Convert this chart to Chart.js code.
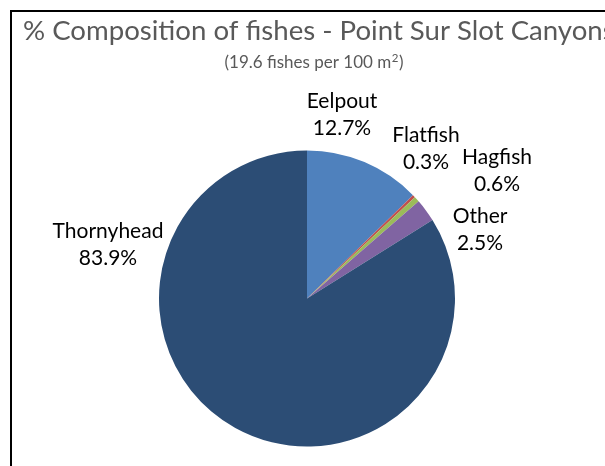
<!DOCTYPE html>
<html>
<head>
<meta charset="utf-8">
<script src="https://cdn.jsdelivr.net/npm/chart.js@4.4.1/dist/chart.umd.min.js"></script>
<style>
  html, body { margin: 0; padding: 0; background: #fff; }
  #wrap { width: 605px; height: 466px; position: relative; }
</style>
</head>
<body>
<div id="wrap"><canvas id="fishPie" width="605" height="466"></canvas></div>
<script>
// species, share of fishes (%)
const species = ["Eelpout", "Flatfish", "Hagfish", "Other", "Thornyhead"];
const shares = [12.7, 0.3, 0.6, 2.5, 83.9];
const sliceColors = ["#4F81BD", "#C0504D", "#9BBB59", "#8064A2", "#2C4D75"];

const titleText = "% Composition of fishes - Point Sur Slot Canyons";
const subtitleParts = ["(19.6 fishes per 100 m", "2", ")"];

// where each label block sits, as offset from the pie centre (first baseline)
const labelOffsets = [[35, -191], [119, -157], [190, -135], [173, -76], [-199, -61]];

const fontFamily = "Lato, 'Open Sans', sans-serif";
const labelFont = "21px " + fontFamily;

const frame = {
    id: "frame",
    beforeDraw(chart) {
        const ctx = chart.ctx;
        ctx.save();
        ctx.strokeStyle = "#000";
        ctx.lineWidth = 2;
        ctx.strokeRect(11, 11, 800, 600);

        ctx.fillStyle = "#595959";
        ctx.textBaseline = "alphabetic";
        ctx.textAlign = "left";
        ctx.font = "27.6px " + fontFamily;
        ctx.fillText(titleText, 23, 40);

        // subtitle with a raised "2" for m²
        const mainFont = "17px " + fontFamily;
        const supFont = "11.5px " + fontFamily;
        ctx.font = mainFont;
        const w0 = ctx.measureText(subtitleParts[0]).width;
        const w2 = ctx.measureText(subtitleParts[2]).width;
        ctx.font = supFont;
        const w1 = ctx.measureText(subtitleParts[1]).width + 1;
        let x = 314 - (w0 + w1 + w2) / 2;
        ctx.font = mainFont;
        ctx.fillText(subtitleParts[0], x, 68);
        x += w0;
        ctx.font = supFont;
        ctx.fillText(subtitleParts[1], x + 0.5, 62);
        x += w1;
        ctx.font = mainFont;
        ctx.fillText(subtitleParts[2], x, 68);
        ctx.restore();
    }
};

const sliceLabels = {
    id: "sliceLabels",
    afterDatasetsDraw(chart) {
        const ctx = chart.ctx;
        const arc = chart.getDatasetMeta(0).data[0];
        const cx = arc.x, cy = arc.y;
        ctx.save();
        ctx.fillStyle = "#000";
        ctx.font = labelFont;
        ctx.textAlign = "center";
        ctx.textBaseline = "alphabetic";
        species.forEach((name, i) => {
            const [dx, dy] = labelOffsets[i];
            ctx.fillText(name, cx + dx, cy + dy);
            ctx.fillText(shares[i].toFixed(1) + "%", cx + dx, cy + dy + 27);
        });
        ctx.restore();
    }
};

new Chart(document.getElementById("fishPie"), {
    type: "pie",
    data: {
        labels: species,
        datasets: [{
            data: shares,
            backgroundColor: sliceColors,
            borderWidth: 0
        }]
    },
    options: {
        responsive: false,
        animation: false,
        layout: {
            padding: { top: 150.5, bottom: 19.5, left: 100, right: 91 }
        },
        plugins: {
            legend: { display: false },
            tooltip: { enabled: false }
        }
    },
    plugins: [frame, sliceLabels]
});
</script>
</body>
</html>
